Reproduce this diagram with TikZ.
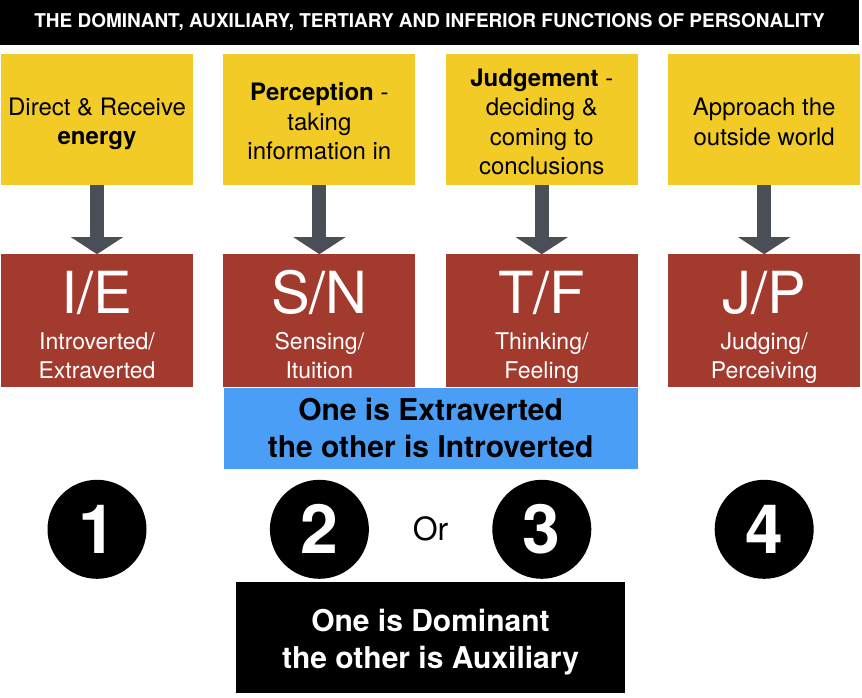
\documentclass[tikz,border=0pt]{standalone}
\usepackage{fontspec}
\setmainfont{TeX Gyre Heros}
\usetikzlibrary{positioning,arrows.meta}
\usetikzlibrary{calc}
\definecolor{boxyellow}{RGB}{243,203,39}
\definecolor{boxred}{RGB}{163,58,46}
\definecolor{boxblue}{RGB}{74,158,245}
\definecolor{arrowgray}{RGB}{74,79,87}
\tikzset{
topic/.style={
  fill=boxyellow, text=black, minimum width=192pt, minimum height=131pt,
  inner sep=0pt, align=center, font=\fontsize{24}{29.5}\selectfont
  },
pair/.style={
  fill=boxred, text=white, minimum width=192pt, minimum height=133pt,
  inner sep=0pt, align=center, font=\fontsize{23}{29}\selectfont
  },
rank/.style={
  circle, fill=black, text=white, minimum size=99pt, inner sep=0pt,
  font=\bfseries\fontsize{68}{68}\selectfont
  },
banner/.style={
  inner sep=0pt, align=center, font=\bfseries\fontsize{30}{37}\selectfont
  },
feed/.style={
  draw=arrowgray, line width=14pt,
  -{Triangle[width=52pt,length=17pt,line width=0pt]}
  }
}
\newcommand{\bigpair}[1]{\rule{0pt}{58pt}{\fontsize{58}{58}\selectfont #1}\\[7pt]}

\begin{document}
\begin{tikzpicture}[x=1pt,y=-1pt]
\useasboundingbox (0,0) rectangle (862,698);

% title bar
\node[banner, fill=black, text=white, minimum width=859pt, minimum height=45pt,
  font=\bfseries\fontsize{19}{20}\selectfont]
  (title) at (429.5,22.5)
  {THE DOMINANT, AUXILIARY, TERTIARY AND INFERIOR FUNCTIONS OF PERSONALITY};

% topics
\node[topic] (T1) at (97,119.5) {\rule{0pt}{26pt}Direct \& Receive\\\textbf{energy}};
\node[topic, right=30pt of T1] (T2) {\rule{0pt}{22pt}\textbf{Perception} -\\taking\\information in};
\node[topic, right=30pt of T2] (T3) {\rule{0pt}{22pt}\textbf{Judgement} -\\deciding \&\\coming to\\conclusions};
\node[topic, right=30pt of T3] (T4) {\rule{0pt}{22pt}Approach the\\outside world};

% letter pairs
\node[pair, below=69pt of T1] (P1) {\bigpair{I/E}Introverted/\\Extraverted\strut};
\node[pair, below=69pt of T2] (P2) {\bigpair{S/N}Sensing/\\Ituition\strut};
\node[pair, below=69pt of T3] (P3) {\bigpair{T/F}Thinking/\\Feeling\strut};
\node[pair, below=69pt of T4] (P4) {\bigpair{J/P}Judging/\\Perceiving\strut};

\draw[feed] (T1.south) -- (P1.north);
\draw[feed] (T2.south) -- (P2.north);
\draw[feed] (T3.south) -- (P3.north);
\draw[feed] (T4.south) -- (P4.north);

% attitude
\node[banner, fill=boxblue, text=black, minimum width=414pt, minimum height=81pt,
  anchor=north] (EI) at ($(P2.south west)!0.5!(P3.south east)$)
  {One is Extraverted\\the other is Introverted};

% ranks
\node[rank, below=92pt of P1] (N1) {1};
\node[rank, below=92pt of P2] (N2) {2};
\node[rank, below=92pt of P3] (N3) {3};
\node[rank, below=92pt of P4] (N4) {4};

\node[font=\fontsize{32}{32}\selectfont] (or) at ($(N2)!0.5!(N3)$) {Or};

\node[banner, fill=black, text=white, minimum width=389pt, minimum height=111pt]
  (DA) at (430.5,637.5) {\rule{0pt}{32pt}One is Dominant\\the other is Auxiliary};

\end{tikzpicture}
\end{document}
